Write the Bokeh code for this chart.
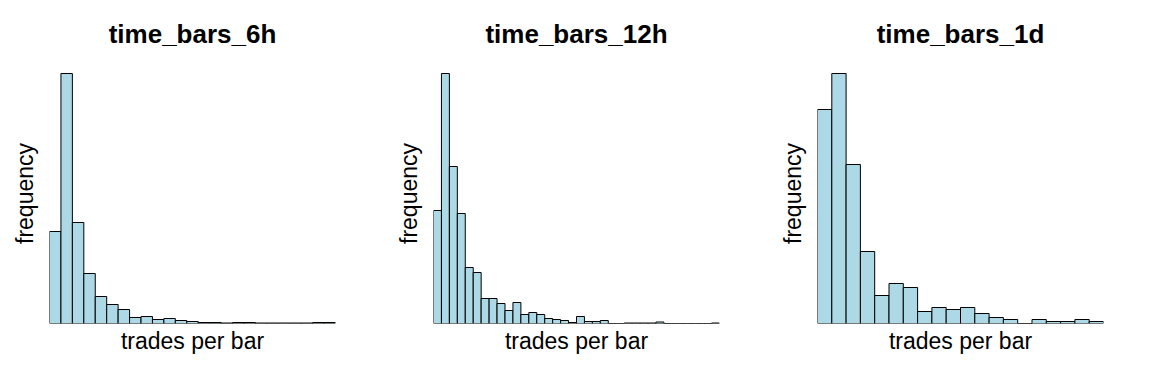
from bokeh.plotting import figure
from bokeh.layouts import row
from bokeh.models import Range1d, FixedTicker
from bokeh.embed import file_html
from bokeh.resources import INLINE

titles = ["time_bars_6h", "time_bars_12h", "time_bars_1d"]
x_label = "trades per bar"
y_label = "frequency"

counts_6h = [184, 500, 202, 100, 54, 38, 28, 12, 14, 8, 10, 6, 4, 2, 2, 1, 2, 2, 1, 1, 1, 1, 1, 2, 2]
counts_12h = [226, 500, 314, 220, 112, 102, 50, 50, 40, 26, 42, 18, 22, 18, 10, 8, 6, 2, 14, 4,
              4, 6, 0, 0, 1, 1, 1, 1, 3, 0, 0, 0, 0, 0, 0, 1]
counts_1d = [428, 500, 318, 144, 56, 80, 72, 24, 32, 28, 32, 20, 12, 8, 0, 8, 4, 4, 8, 4]

series = [counts_6h, counts_12h, counts_1d]

FONT = "Liberation Sans"
figs = []
for title, counts in zip(titles, series):
    n = len(counts)
    left = list(range(n))
    right = [i + 1 for i in range(n)]
    p = figure(width=384, height=384, output_backend="svg", toolbar_location=None,
               x_range=Range1d(0, n), y_range=Range1d(0, max(counts) * 1.04),
               min_border_left=49, min_border_right=49, min_border_top=63, min_border_bottom=61,
               title=title)
    p.quad(left=left, right=right, bottom=0, top=counts,
           fill_color="#ADD8E6", line_color="black", line_width=1)
    p.title.align = "center"
    p.title.text_font = FONT
    p.title.text_font_style = "bold"
    p.title.text_font_size = "26px"
    p.title.text_color = "black"
    p.title.standoff = 30
    p.xgrid.visible = False
    p.ygrid.visible = False
    p.outline_line_color = None
    for ax, lab, so in ((p.xaxis[0], x_label, 4), (p.yaxis[0], y_label, 12)):
        ax.ticker = FixedTicker(ticks=[])
        ax.axis_label = lab
        ax.axis_label_text_font = FONT
        ax.axis_label_text_font_style = "normal"
        ax.axis_label_text_font_size = "23px"
        ax.axis_label_text_color = "black"
        ax.axis_label_standoff = so
        ax.axis_line_color = None
        ax.major_tick_line_color = None
        ax.minor_tick_line_color = None
        ax.major_tick_out = 0
        ax.major_tick_in = 0
        ax.minor_tick_out = 0
        ax.major_label_standoff = 0
    figs.append(p)

layout = row(*figs)
open("out.html", "w").write(file_html(layout, INLINE))
